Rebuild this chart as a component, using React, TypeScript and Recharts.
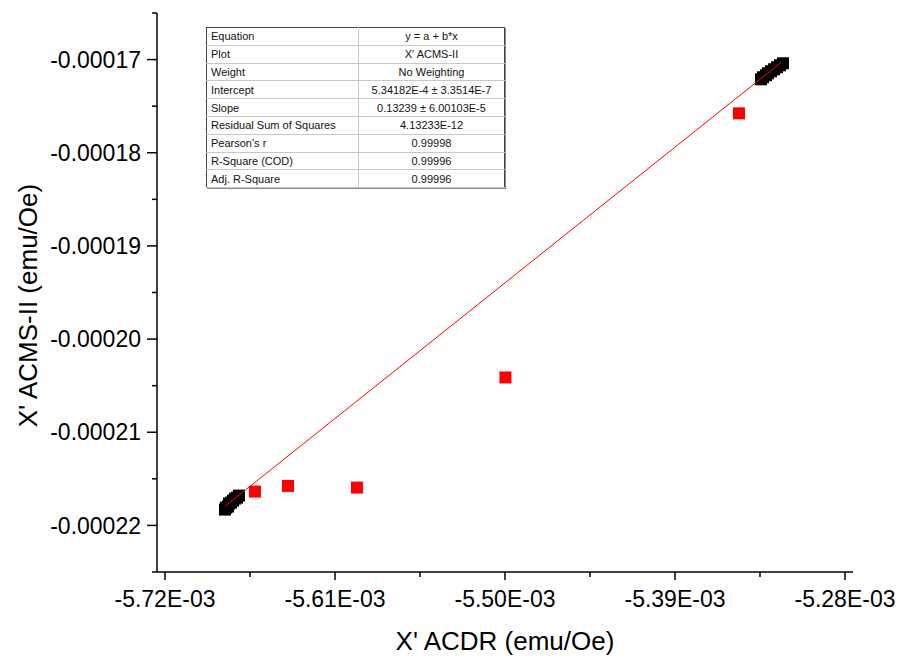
import React from 'react';
import { ScatterChart, Scatter, XAxis, YAxis, Label } from 'recharts';

// ---- data ----
const clusterLowX = [-5.68118e-3, -5.68053e-3, -5.67924e-3, -5.67859e-3, -5.6773e-3, -5.676e-3, -5.67471e-3, -5.67341e-3, -5.67212e-3];
const clusterLowY = [-2.183e-4, -2.1809e-4, -2.1798e-4, -2.1766e-4, -2.1755e-4, -2.1734e-4, -2.1712e-4, -2.1701e-4, -2.168e-4];
const clusterHighX = [-5.33436e-3, -5.33307e-3, -5.33113e-3, -5.32984e-3, -5.3279e-3, -5.32596e-3, -5.32402e-3, -5.32208e-3, -5.32014e-3];
const clusterHighY = [-1.72116e-4, -1.71901e-4, -1.71686e-4, -1.71472e-4, -1.71257e-4, -1.71042e-4, -1.70827e-4, -1.70612e-4, -1.70397e-4];
const redX = [-5.6618e-3, -5.6404e-3, -5.5958e-3, -5.4997e-3, -5.3486e-3];
const redY = [-2.1637e-4, -2.1576e-4, -2.1594e-4, -2.0412e-4, -1.7577e-4];
const fitX = [-5.6812e-3, -5.3214e-3];
const fitY = [-2.17952e-4, -1.70318e-4];

const xDomain = [-5.72518e-3, -5.27482e-3];
const yDomain = [-0.000225, -0.000165];
const xMajorTicks = [-5.72e-3, -5.61e-3, -5.5e-3, -5.39e-3, -5.28e-3];
const xMinorTicks = [-5.665e-3, -5.555e-3, -5.445e-3, -5.335e-3];
const yMajorTicks = [-0.00017, -0.00018, -0.00019, -0.0002, -0.00021, -0.00022];
const yMinorTicks = [-0.000165, -0.000175, -0.000185, -0.000195, -0.000205, -0.000215, -0.000225];

const tableLabels = ['Equation', 'Plot', 'Weight', 'Intercept', 'Slope', 'Residual Sum of Squares', "Pearson's r", 'R-Square (COD)', 'Adj. R-Square'];
const tableValues = ['y = a + b*x', "X' ACMS-II", 'No Weighting', '5.34182E-4 \u00b1 3.3514E-7', '0.13239 \u00b1 6.00103E-5', '4.13233E-12', '0.99998', '0.99996', '0.99996'];

const xTitle = "X' ACDR (emu/Oe)";
const yTitle = "X' ACMS-II (emu/Oe)";

// ---- build ----
const zip = (xs: number[], ys: number[]) => xs.map((x, i) => ({ x, y: ys[i] }));
const lowData = zip(clusterLowX, clusterLowY);
const highData = zip(clusterHighX, clusterHighY);
const redData = zip(redX, redY);
const fitData = zip(fitX, fitY);

const xTicks = [...xMajorTicks, ...xMinorTicks].sort((a, b) => a - b);
const yTicks = [...yMajorTicks, ...yMinorTicks].sort((a, b) => a - b);

const FONT = "'Liberation Sans', Arial, sans-serif";
const TICK_FONT = 23;
const Y_TICK_SIZE = 10;
const Y_TICK_MARGIN = 6;
const X_TICK_SIZE = 8;
const X_TICK_MARGIN = 11;
const AXIS_W = 1.5;

const isIn = (v: number, arr: number[]) => arr.some((a) => Math.abs(a - v) < 1e-12);

const YTick = (props: any) => {
  const { x, y, payload } = props;
  const major = isIn(payload.value, yMajorTicks);
  const axisX = x + Y_TICK_SIZE + Y_TICK_MARGIN;
  return (
    <g>
      <line x1={axisX - (major ? Y_TICK_SIZE : 5)} x2={axisX} y1={y} y2={y} stroke="#000" strokeWidth={AXIS_W} />
      {major && (
        <text x={x} y={y} dy="0.355em" textAnchor="end" fontSize={TICK_FONT} fontFamily={FONT} fill="#000">
          {payload.value.toFixed(5)}
        </text>
      )}
    </g>
  );
};

const XTick = (props: any) => {
  const { x, y, payload } = props;
  const major = isIn(payload.value, xMajorTicks);
  const axisY = y - X_TICK_SIZE - X_TICK_MARGIN;
  return (
    <g>
      <line x1={x} x2={x} y1={axisY} y2={axisY + (major ? X_TICK_SIZE : 5)} stroke="#000" strokeWidth={AXIS_W} />
      {major && (
        <text x={x} y={y} dy="0.71em" textAnchor="middle" fontSize={TICK_FONT} fontFamily={FONT} fill="#000">
          {(payload.value * 1000).toFixed(2) + 'E-03'}
        </text>
      )}
    </g>
  );
};

const Square = (color: string) => (props: any) => {
  const { cx, cy } = props;
  if (cx == null || cy == null) return <g />;
  return <rect x={cx - 6} y={cy - 6} width={12} height={12} fill={color} />;
};

const YTitle = (props: any) => {
  const vb = props.viewBox || {};
  const cx = 37;
  const cy = (vb.y || 0) + (vb.height || 0) / 2 + 13;
  return (
    <text x={cx} y={cy} transform={`rotate(-90 ${cx} ${cy})`} textAnchor="middle" fontSize={26} fontFamily={FONT} fill="#000">
      {yTitle}
    </text>
  );
};

export default function App() {
  const rowH = 17.8;
  return (
    <div style={{ position: 'absolute', left: 0, top: 0, width: 898, height: 657, background: '#fff', overflow: 'hidden' }}>
      <ScatterChart width={898} height={657} margin={{ top: 13, right: 45, bottom: 0, left: 0 }}>
        <XAxis
          type="number"
          dataKey="x"
          domain={xDomain}
          ticks={xTicks}
          interval={0}
          allowDataOverflow
          height={85}
          tickSize={X_TICK_SIZE}
          tickMargin={X_TICK_MARGIN}
          tickLine={false}
          axisLine={{ stroke: '#000', strokeWidth: AXIS_W }}
          tick={<XTick />}
        >
          <Label value={xTitle} position="insideBottom" offset={7} fontSize={26} fontFamily={FONT} fill="#000" />
        </XAxis>
        <YAxis
          type="number"
          dataKey="y"
          domain={yDomain}
          ticks={yTicks}
          interval={0}
          allowDataOverflow
          width={157}
          tickSize={Y_TICK_SIZE}
          tickMargin={Y_TICK_MARGIN}
          tickLine={false}
          axisLine={{ stroke: '#000', strokeWidth: AXIS_W }}
          tick={<YTick />}
        >
          <Label content={<YTitle />} />
        </YAxis>
        <Scatter data={lowData} shape={Square('#000')} isAnimationActive={false} />
        <Scatter data={highData} shape={Square('#000')} isAnimationActive={false} />
        <Scatter data={redData} shape={Square('#ff0000')} isAnimationActive={false} />
        <Scatter data={fitData} line={{ stroke: '#ff0000', strokeWidth: 1 }} shape={() => <g />} isAnimationActive={false} />
      </ScatterChart>
      <table
        style={{
          position: 'absolute',
          left: 206,
          top: 27,
          width: 298,
          tableLayout: 'fixed',
          borderCollapse: 'collapse',
          fontFamily: FONT,
          fontSize: 11,
          color: '#111',
          border: '1px solid #444',
          boxShadow: '1px 1px 0 #888',
          background: '#fff',
        }}
      >
        <colgroup>
          <col style={{ width: 152 }} />
          <col style={{ width: 146 }} />
        </colgroup>
        <tbody>
          {tableLabels.map((lab, i) => (
            <tr key={lab} style={{ height: rowH }}>
              <td style={{ padding: '0 0 0 4px', borderRight: '1px solid #c8c8c8', borderBottom: '1px solid #c8c8c8', lineHeight: '16px', whiteSpace: 'nowrap' }}>{lab}</td>
              <td style={{ padding: 0, textAlign: 'center', borderBottom: '1px solid #c8c8c8', lineHeight: '16px', whiteSpace: 'nowrap' }}>{tableValues[i]}</td>
            </tr>
          ))}
        </tbody>
      </table>
    </div>
  );
}
